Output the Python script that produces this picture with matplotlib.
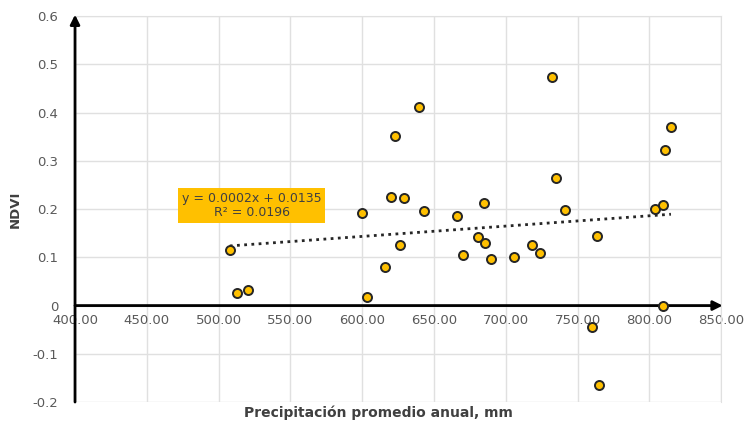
import numpy as np
import matplotlib.pyplot as plt

# precipitation (mm) and NDVI per site
precip = [507.8, 512.7, 520.3, 600.0, 603.4, 615.9, 620.0, 622.8, 626.3, 629.0,
          639.4, 643.0, 666.0, 670.0, 680.5, 684.5, 685.5, 689.7, 705.7, 718.3,
          723.9, 732.2, 735.0, 741.3, 760.0, 763.4, 764.8, 804.0, 809.6, 809.6,
          811.0, 815.0]
ndvi = [0.115, 0.026, 0.032, 0.192, 0.018, 0.080, 0.225, 0.351, 0.125, 0.223,
        0.411, 0.196, 0.185, 0.105, 0.142, 0.212, 0.130, 0.096, 0.100, 0.125,
        0.109, 0.474, 0.264, 0.198, -0.045, 0.144, -0.165, 0.200, 0.208, 0.000,
        0.322, 0.370]

xticks = [400, 450, 500, 550, 600, 650, 700, 750, 800, 850]
yticks = [-0.2, -0.1, 0, 0.1, 0.2, 0.3, 0.4, 0.5, 0.6]
ylabels = ['-0.2', '-0.1', '0', '0.1', '0.2', '0.3', '0.4', '0.5', '0.6']

slope, intercept = np.polyfit(precip, ndvi, 1)

fig = plt.figure(figsize=(7.54, 4.25), dpi=100)
ax = fig.add_axes([0.0995, 0.054, 0.857, 0.908])

ax.set_xlim(400, 850)
ax.set_ylim(-0.2, 0.6)
ax.set_xticks(xticks)
ax.set_xticklabels([f'{v:.2f}' for v in xticks])
ax.set_yticks(yticks)
ax.set_yticklabels(ylabels)
ax.grid(True, color='#e0e0e0', lw=1)
ax.set_axisbelow(True)
for s in ['top', 'right']:
    ax.spines[s].set_color('#e0e0e0')

# x tick labels sit under the zero line
ax.spines['bottom'].set_position(('data', 0))
ax.spines['bottom'].set_visible(False)
ax.spines['left'].set_visible(False)
ax.tick_params(axis='both', length=0, colors='#595959', labelsize=9.5)
ax.tick_params(axis='x', pad=6)
ax.tick_params(axis='y', pad=12)

# axes with arrow heads
ax.annotate('', xy=(851, 0), xytext=(400, 0),
            arrowprops=dict(arrowstyle='-|>', lw=2, color='black',
                            mutation_scale=14, shrinkA=0, shrinkB=0),
            annotation_clip=False)
ax.annotate('', xy=(400, 0.603), xytext=(400, -0.2),
            arrowprops=dict(arrowstyle='-|>', lw=2, color='black',
                            mutation_scale=14, shrinkA=0, shrinkB=0),
            annotation_clip=False)

# trend line
xs = np.array([min(precip), max(precip)])
ax.plot(xs, slope * xs + intercept, ls=(0, (1, 1.6)), color='#262626', lw=2)

ax.plot(precip, ndvi, 'o', ms=6.5, mfc='#ffc000', mec='#262626', mew=1.4,
        clip_on=False, zorder=5)

ax.text(523, 0.207, 'y = 0.0002x + 0.0135\nR² = 0.0196', ha='center', va='center',
        fontsize=9, color='#404040', linespacing=1.15,
        bbox=dict(boxstyle='square,pad=0.3', fc='#ffc000', ec='none'))

ax.set_ylabel('NDVI', fontsize=9.5, fontweight='bold', color='#404040')
ax.yaxis.set_label_coords(-0.083, 0.5)
ax.set_xlabel('Precipitación promedio anual, mm', fontsize=10,
              fontweight='bold', color='#404040')
ax.xaxis.set_label_coords(0.47, -0.01)

fig.savefig('out.png', dpi=100)
